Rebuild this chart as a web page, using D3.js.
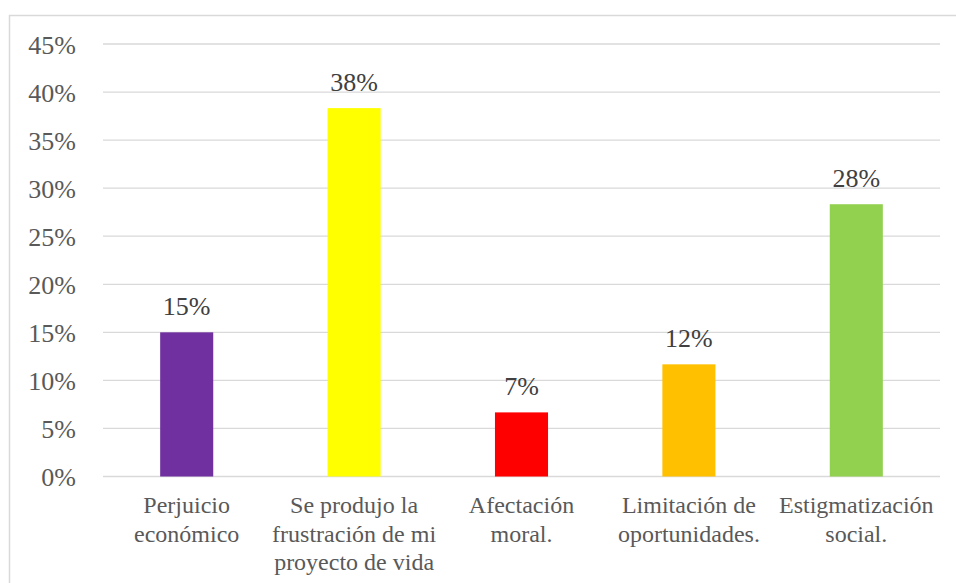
<!DOCTYPE html>
<html><head><meta charset="utf-8">
<script src="https://cdn.jsdelivr.net/npm/d3@7"></script>
<style>body{margin:0;background:#fff}svg{display:block}</style>
</head><body>
<svg id="c" width="956" height="583"></svg>
<script>
const categories = ["Perjuicio económico","Se produjo la frustración de mi proyecto de vida","Afectación moral.","Limitación de oportunidades.","Estigmatización social."];
const categoryLines = [["Perjuicio","económico"],["Se produjo la","frustración de mi","proyecto de vida"],["Afectación","moral."],["Limitación de","oportunidades."],["Estigmatización","social."]];
const values = [0.15, 0.3833, 0.0667, 0.1167, 0.2833];
const valueLabels = ["15%","38%","7%","12%","28%"];
const colors = ["#7030A0","#FFFF00","#FF0000","#FFC000","#92D050"];
const yTicks = [0,0.05,0.10,0.15,0.20,0.25,0.30,0.35,0.40,0.45];

const FONT = "'Liberation Serif'";
const svg = d3.select("#c");
svg.append("rect").attr("x",9.5).attr("y",15.5).attr("width",960).attr("height",600)
  .attr("fill","none").attr("stroke","#d9d9d9").attr("stroke-width",1.5);

const x = d3.scaleBand().domain(categories).range([103,940]).paddingInner(0.683).paddingOuter(0.3415);
const y = d3.scaleLinear().domain([0,0.45]).range([476.5,44]);

// gridlines
svg.append("g").selectAll("line").data(yTicks).join("line")
  .attr("x1",103).attr("x2",940).attr("y1",d=>y(d)).attr("y2",d=>y(d))
  .attr("stroke","#d9d9d9").attr("stroke-width",1.3);

// y axis labels
const yAxis = d3.axisLeft(y).tickValues(yTicks).tickFormat(d=>Math.round(d*100)+"%").tickSize(0).tickPadding(0);
const ga = svg.append("g").attr("transform","translate(76,0)").call(yAxis);
ga.attr("font-family",null).attr("font-size",null);
ga.select(".domain").remove();
ga.selectAll("text").style("font-family",FONT).style("font-size","26px").attr("fill","#595959")
  .attr("dy",null).attr("transform","translate(0,9)");

// bars
svg.append("g").selectAll("rect").data(values).join("rect")
  .attr("x",(d,i)=>x(categories[i])).attr("width",x.bandwidth())
  .attr("y",d=>y(d)).attr("height",d=>y(0)-y(d)).attr("fill",(d,i)=>colors[i]);

// data labels
svg.append("g").selectAll("text").data(values).join("text")
  .attr("x",(d,i)=>x(categories[i])+x.bandwidth()/2).attr("y",d=>y(d)-17)
  .attr("text-anchor","middle").style("font-family",FONT).style("font-size","26px").attr("fill","#404040")
  .text((d,i)=>valueLabels[i]);

// category labels
const cg = svg.append("g").selectAll("text").data(categories).join("text")
  .attr("x",d=>x(d)+x.bandwidth()/2).attr("y",513.3)
  .attr("text-anchor","middle").style("font-family",FONT).style("font-size","24px").attr("fill","#595959");
cg.each(function(d,i){
  d3.select(this).selectAll("tspan").data(categoryLines[i]).join("tspan")
    .attr("x",x(d)+x.bandwidth()/2).attr("dy",(t,j)=>j===0?0:28.3).text(t=>t);
});
</script>
</body></html>
